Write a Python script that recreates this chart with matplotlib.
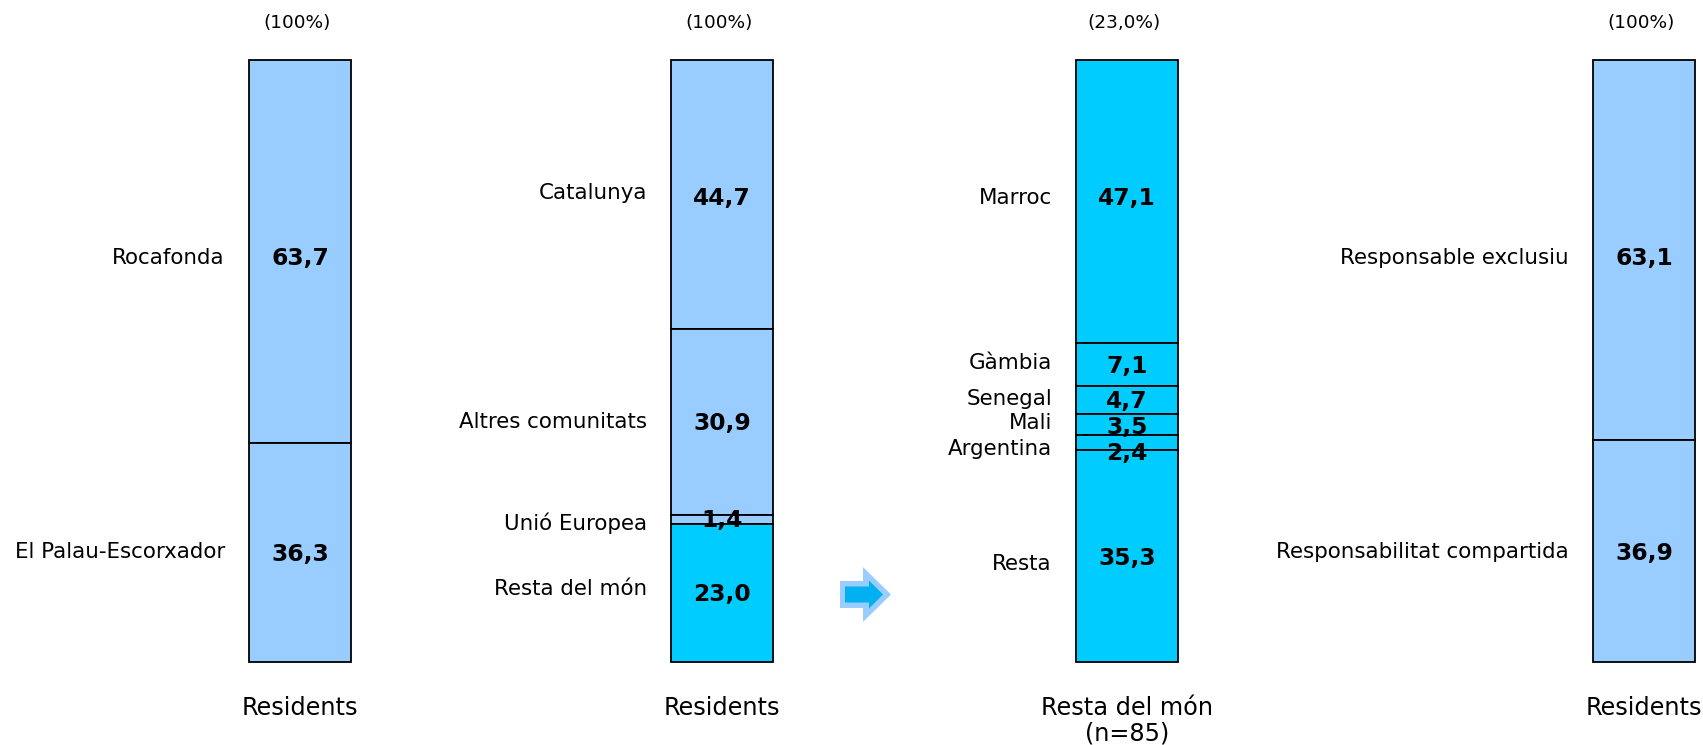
import matplotlib
matplotlib.use("Agg")
import matplotlib.pyplot as plt
import numpy as np
from matplotlib.patches import Polygon

matplotlib.rcParams.update({
    "font.family": "DejaVu Sans",
})

LIGHT = "#99ccff"
CYAN = "#00ccff"

# data: one list per stacked column, top segment first
BAR1_LABELS = ["Rocafonda", "El Palau-Escorxador"]
BAR1_VALUES = [63.7, 36.3]
BAR1_COLORS = [LIGHT, LIGHT]

BAR2_LABELS = ["Catalunya", "Altres comunitats", "Unió Europea", "Resta del món"]
BAR2_VALUES = [44.7, 30.9, 1.4, 23.0]
BAR2_COLORS = [LIGHT, LIGHT, LIGHT, CYAN]

BAR3_LABELS = ["Marroc", "Gàmbia", "Senegal", "Mali", "Argentina", "Resta"]
BAR3_VALUES = [47.1, 7.1, 4.7, 3.5, 2.4, 35.3]
BAR3_COLORS = [CYAN] * 6

BAR4_LABELS = ["Responsable exclusiu", "Responsabilitat compartida"]
BAR4_VALUES = [63.1, 36.9]
BAR4_COLORS = [LIGHT, LIGHT]

TOP_TEXTS = ["(100%)", "(100%)", "(23,0%)", "(100%)"]
BOTTOM_TEXTS = ["Residents", "Residents", "Resta del món\n(n=85)", "Residents"]

W, H = 1703, 745
BAR_LEFTS = [249, 671, 1076, 1593]   # pixels
BAR_W = 102
BAR_TOP, BAR_BOT = 60, 662

# small vertical nudges (pixels, downward) for crowded labels
NUDGES = {
    1: ([4, -3], [4, -1]),
    2: ([-4, -2, 2, -6], [1, -1, -1, -1]),
    3: ([-6, -4, -3, -4, 5, 6], [-6, -1, -1, 0, 9, 0]),
    4: ([6, -1], [6, 0]),
}


def fmt(v):
    return f"{v:.1f}".replace(".", ",")


def draw_bar(fig, idx, left, labels, values, colors, top_text, bottom_text):
    ax = fig.add_axes([left / W, (H - BAR_BOT) / H, BAR_W / W,
                       (BAR_BOT - BAR_TOP) / H])
    bottoms = np.concatenate([[0], np.cumsum(values)[:-1]])
    bars = ax.bar(0, values, bottom=bottoms, width=1.0, color=colors,
                  edgecolor="black", linewidth=1.3, align="center")
    for b in bars:
        b.set_clip_on(False)
    ax.set_xlim(-0.5, 0.5)
    ax.set_ylim(sum(values), 0)
    ax.axis("off")

    lab_nudge, val_nudge = NUDGES[idx]
    for lab, v, b, ln, vn in zip(labels, values, bottoms, lab_nudge, val_nudge):
        yc = b + v / 2
        ax.annotate(fmt(v), xy=(0.5, yc), xycoords=("axes fraction", "data"),
                    xytext=(0, -vn), textcoords="offset pixels",
                    ha="center", va="center_baseline", fontsize=16.8,
                    fontweight="bold")
        ax.annotate(lab, xy=(0, yc), xycoords=("axes fraction", "data"),
                    xytext=(-24, -ln), textcoords="offset pixels",
                    ha="right", va="center_baseline", fontsize=15.4)

    ax.annotate(top_text, xy=(0.5, 1), xycoords="axes fraction",
                xytext=(-3, 37), textcoords="offset pixels",
                ha="center", va="center", fontsize=13.3)
    ax.annotate(bottom_text, xy=(0.5, 0), xycoords="axes fraction",
                xytext=(0, -34), textcoords="offset pixels",
                ha="center", va="top", fontsize=17.3, linespacing=1.1)
    return ax


fig = plt.figure(figsize=(W / 100, H / 100), dpi=100)

draw_bar(fig, 1, BAR_LEFTS[0], BAR1_LABELS, BAR1_VALUES, BAR1_COLORS,
         TOP_TEXTS[0], BOTTOM_TEXTS[0])
draw_bar(fig, 2, BAR_LEFTS[1], BAR2_LABELS, BAR2_VALUES, BAR2_COLORS,
         TOP_TEXTS[1], BOTTOM_TEXTS[1])
draw_bar(fig, 3, BAR_LEFTS[2], BAR3_LABELS, BAR3_VALUES, BAR3_COLORS,
         TOP_TEXTS[2], BOTTOM_TEXTS[2])
draw_bar(fig, 4, BAR_LEFTS[3], BAR4_LABELS, BAR4_VALUES, BAR4_COLORS,
         TOP_TEXTS[3], BOTTOM_TEXTS[3])


# decorative block arrow between columns 2 and 3 (pixel units)
def arrow_pts(x0, yc, shaft_h, head_x, head_h, tip):
    pts = [(x0, yc - shaft_h), (head_x, yc - shaft_h), (head_x, yc - head_h),
           (tip, yc), (head_x, yc + head_h), (head_x, yc + shaft_h),
           (x0, yc + shaft_h)]
    return [(x / 100, y / 100) for x, y in pts]


yc = H - 594.5
fig.patches.append(Polygon(arrow_pts(840, yc, 13.5, 863, 27.5, 891),
                           closed=True, facecolor=LIGHT, edgecolor="none",
                           transform=fig.dpi_scale_trans, figure=fig))
fig.patches.append(Polygon(arrow_pts(845, yc, 8, 869, 14, 883),
                           closed=True, facecolor="#00b0f0", edgecolor="none",
                           transform=fig.dpi_scale_trans, figure=fig))

fig.savefig("out.png", dpi=100, facecolor="white")
